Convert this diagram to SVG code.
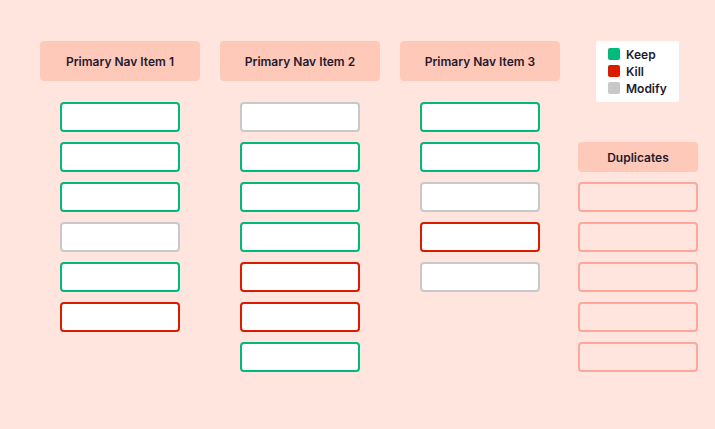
<svg xmlns="http://www.w3.org/2000/svg" width="715" height="429" viewBox="0 0 715 429">
<style>
.hdr{fill:#FFC9BA}
.t{font-family:Inter,"Liberation Sans",sans-serif;font-weight:600;font-size:12px;fill:#1E1A2E}
.b{fill:#FFFFFF;stroke-width:2}
.g{stroke:#00B97A}
.r{stroke:#D91C00}
.m{stroke:#C8C8C8}
.d{fill:none;stroke:#FFA79C;stroke-width:2}
</style>
<rect width="715" height="429" fill="#FFE5DD"/>
<g id="col1">
<rect class="hdr" x="40" y="41" width="160" height="40" rx="4"/>
<text class="t" x="120" y="65.5" text-anchor="middle">Primary Nav Item 1</text>
<rect class="b g" x="61" y="103" width="118" height="28" rx="3"/>
<rect class="b g" x="61" y="143" width="118" height="28" rx="3"/>
<rect class="b g" x="61" y="183" width="118" height="28" rx="3"/>
<rect class="b m" x="61" y="223" width="118" height="28" rx="3"/>
<rect class="b g" x="61" y="263" width="118" height="28" rx="3"/>
<rect class="b r" x="61" y="303" width="118" height="28" rx="3"/>
</g>
<g id="col2">
<rect class="hdr" x="220" y="41" width="160" height="40" rx="4"/>
<text class="t" x="300" y="65.5" text-anchor="middle">Primary Nav Item 2</text>
<rect class="b m" x="241" y="103" width="118" height="28" rx="3"/>
<rect class="b g" x="241" y="143" width="118" height="28" rx="3"/>
<rect class="b g" x="241" y="183" width="118" height="28" rx="3"/>
<rect class="b g" x="241" y="223" width="118" height="28" rx="3"/>
<rect class="b r" x="241" y="263" width="118" height="28" rx="3"/>
<rect class="b r" x="241" y="303" width="118" height="28" rx="3"/>
<rect class="b g" x="241" y="343" width="118" height="28" rx="3"/>
</g>
<g id="col3">
<rect class="hdr" x="400" y="41" width="160" height="40" rx="4"/>
<text class="t" x="480" y="65.5" text-anchor="middle">Primary Nav Item 3</text>
<rect class="b g" x="421" y="103" width="118" height="28" rx="3"/>
<rect class="b g" x="421" y="143" width="118" height="28" rx="3"/>
<rect class="b m" x="421" y="183" width="118" height="28" rx="3"/>
<rect class="b r" x="421" y="223" width="118" height="28" rx="3"/>
<rect class="b m" x="421" y="263" width="118" height="28" rx="3"/>
</g>
<g id="legend">
<rect x="596" y="41" width="83" height="61" rx="2" fill="#FFFFFF"/>
<rect x="608" y="48" width="12" height="12" rx="2" fill="#00B97A"/>
<rect x="608" y="65" width="12" height="12" rx="2" fill="#D91C00"/>
<rect x="608" y="82" width="12" height="12" rx="2" fill="#C8C8C8"/>
<text class="t" x="626" y="59">Keep</text>
<text class="t" x="626" y="76">Kill</text>
<text class="t" x="626" y="93">Modify</text>
</g>
<g id="duplicates">
<rect class="hdr" x="578" y="142" width="120" height="30" rx="4"/>
<text class="t" x="638" y="161.5" text-anchor="middle">Duplicates</text>
<rect class="d" x="579" y="183" width="118" height="28" rx="3"/>
<rect class="d" x="579" y="223" width="118" height="28" rx="3"/>
<rect class="d" x="579" y="263" width="118" height="28" rx="3"/>
<rect class="d" x="579" y="303" width="118" height="28" rx="3"/>
<rect class="d" x="579" y="343" width="118" height="28" rx="3"/>
</g>
<g id="connectors"/>
</svg>
